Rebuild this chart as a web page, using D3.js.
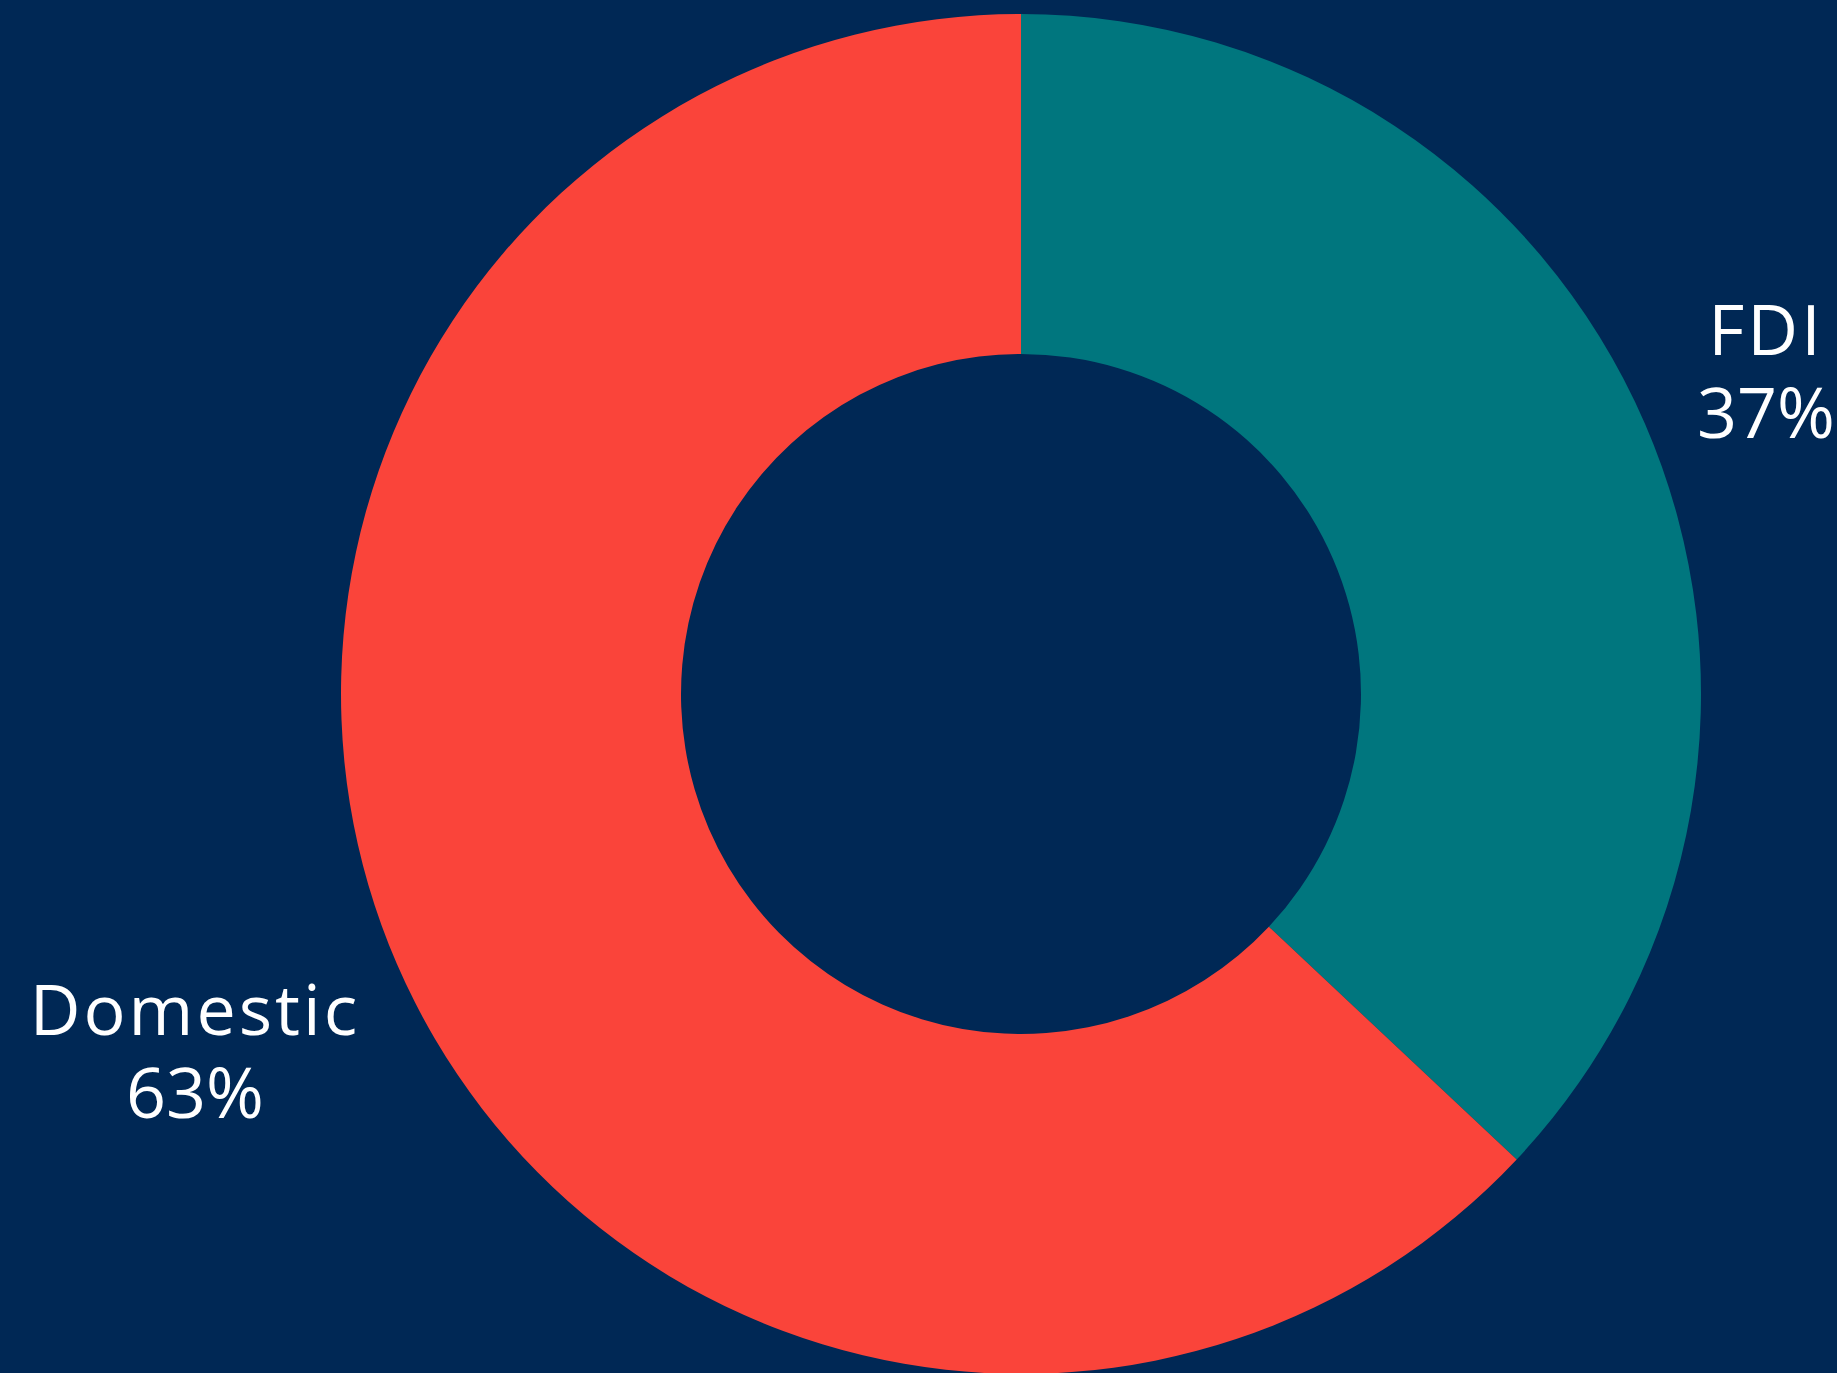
<!DOCTYPE html>
<html lang="en">
<head>
    <meta charset="UTF-8">
    <title>FDI vs Domestic</title>
    <script src="https://cdnjs.cloudflare.com/ajax/libs/d3/7.8.5/d3.min.js"></script>
    <style>
        html, body {
            margin: 0;
            padding: 0;
            background: #002855;
        }
        svg {
            display: block;
        }
        .label text {
            font-family: "Open Sans", "Noto Sans", sans-serif;
            font-size: 70px;
            fill: #ffffff;
        }
        .label text.name {
            letter-spacing: 3px;
        }
    </style>
</head>
<body>
<svg id="chart"></svg>

<script>
    const categories = ["FDI", "Domestic"];
    const shares = [37, 63];
    const colorsList = ["#00767e", "#fa443a"];

    const width = 1837, height = 1373;
    const cx = 1021, cy = 694;
    const outerR = 680, innerR = 340;
    const labelGap = 42;
    const lineGap = 83;
    const capH = 50;

    const svg = d3.select("#chart")
        .attr("width", width)
        .attr("height", height);

    svg.append("rect")
        .attr("width", width)
        .attr("height", height)
        .attr("fill", "#002855");

    const data = categories.map((c, i) => ({ name: c, value: shares[i], color: colorsList[i] }));

    const pie = d3.pie().sort(null).value(d => d.value);
    const arc = d3.arc().innerRadius(innerR).outerRadius(outerR);

    const g = svg.append("g").attr("transform", `translate(${cx},${cy})`);

    g.selectAll("path")
        .data(pie(data))
        .enter()
        .append("path")
        .attr("d", arc)
        .attr("fill", d => d.data.color);

    // labels sit outside the ring, pushed along the mid angle so the box clears it
    const labels = g.selectAll("g.label")
        .data(pie(data))
        .enter()
        .append("g")
        .attr("class", "label");

    labels.append("text")
        .attr("class", "name")
        .attr("text-anchor", "middle")
        .text(d => d.data.name);

    labels.append("text")
        .attr("class", "pct")
        .attr("text-anchor", "middle")
        .attr("y", lineGap)
        .text(d => d.data.value + "%");

    labels.each(function (d) {
        const sel = d3.select(this);
        const w = Math.max(
            sel.select(".name").node().getComputedTextLength(),
            sel.select(".pct").node().getComputedTextLength()
        );
        const halfW = w / 2;
        const halfH = (capH + lineGap) / 2;
        const a = (d.startAngle + d.endAngle) / 2;
        const s = Math.sin(a), c = Math.cos(a);
        const r = outerR + labelGap + halfW * Math.abs(s) + halfH * Math.abs(c);
        const x = r * s;
        const yMid = -r * c;
        // baseline of first line: block spans from cap top to 2nd baseline
        const y1 = yMid - halfH + capH;
        sel.attr("transform", `translate(${x},${y1})`);
    });
</script>
</body>
</html>
